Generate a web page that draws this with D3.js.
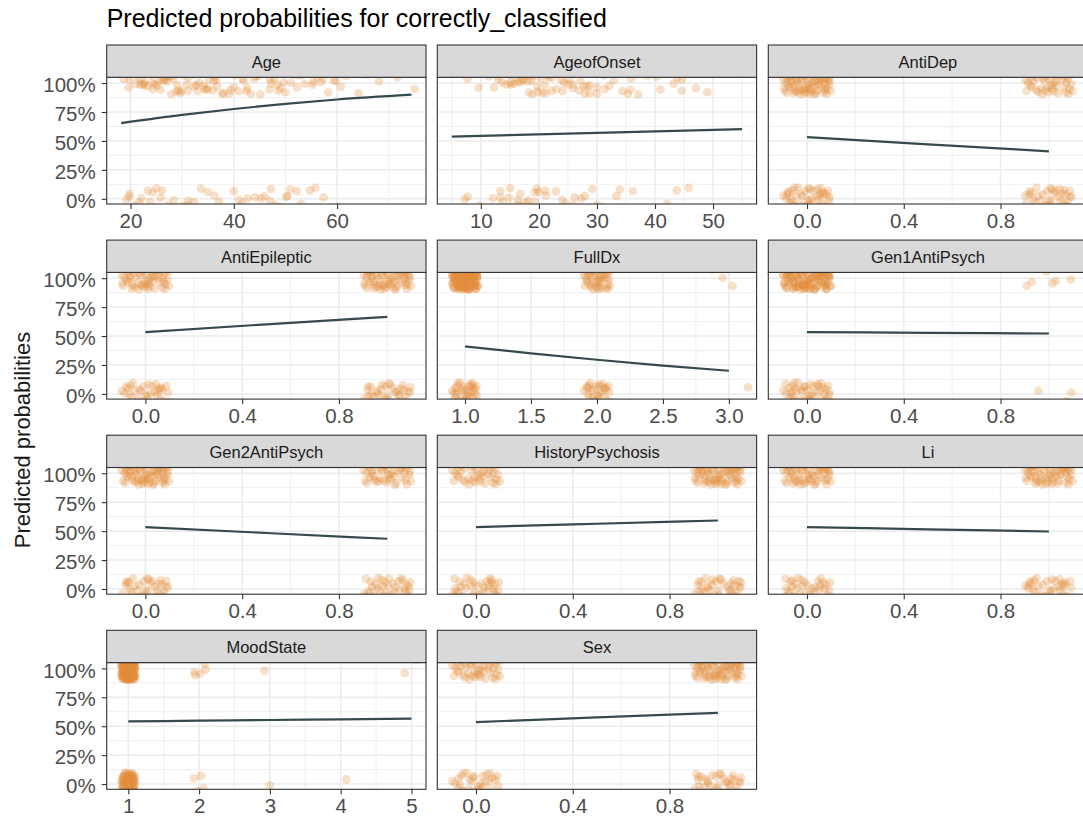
<!DOCTYPE html>
<html>
<head>
<meta charset="utf-8">
<script src="https://cdn.jsdelivr.net/npm/d3@7"></script>
<style>
  body { margin: 0; background: #fff; }
  svg { display: block; font-family: "Liberation Sans", Arial, sans-serif; }
</style>
</head>
<body>
<svg id="chart" width="1083" height="821"></svg>
<script>
// Facets, in facet_wrap order (3 columns)
const facets = ["Age", "AgeofOnset", "AntiDep", "AntiEpileptic", "FullDx", "Gen1AntiPsych",
                "Gen2AntiPsych", "HistoryPsychosis", "Li", "MoodState", "Sex"];

// Data range on x for each facet (before the 5% expansion)
const xLimits = [[18.2, 74.4], [5, 55], [-0.1, 1.1], [-0.1, 1.1], [0.9, 3.1], [-0.1, 1.1],
                 [-0.1, 1.1], [-0.1, 1.1], [-0.1, 1.1], [0.9, 5], [-0.1, 1.1]];

const xTicks = [[20, 40, 60], [10, 20, 30, 40, 50], [0, 0.4, 0.8], [0, 0.4, 0.8],
                [1, 1.5, 2, 2.5, 3], [0, 0.4, 0.8], [0, 0.4, 0.8], [0, 0.4, 0.8],
                [0, 0.4, 0.8], [1, 2, 3, 4, 5], [0, 0.4, 0.8]];
const xTickFormats = ["d", "d", ".1f", ".1f", ".1f", ".1f", ".1f", ".1f", ".1f", "d", ".1f"];

const yTicks = [0, 0.25, 0.5, 0.75, 1];

// Predicted probability curves
const lineX = [
  [18.2, 30, 40, 50, 60, 74.4],
  [5, 30, 55],
  [0, 0.5, 1],
  [0, 0.5, 1],
  [1, 1.5, 2, 2.5, 3],
  [0, 0.5, 1],
  [0, 0.5, 1],
  [0, 0.5, 1],
  [0, 0.5, 1],
  [1, 2, 3, 4, 5],
  [0, 0.5, 1]
];
const lineP = [
  [0.654, 0.725, 0.776, 0.821, 0.858, 0.900],
  [0.538, 0.570, 0.602],
  [0.533, 0.471, 0.410],
  [0.534, 0.601, 0.666],
  [0.410, 0.350, 0.295, 0.245, 0.200],
  [0.534, 0.528, 0.522],
  [0.535, 0.484, 0.434],
  [0.535, 0.564, 0.592],
  [0.535, 0.516, 0.497],
  [0.542, 0.548, 0.554, 0.559, 0.565],
  [0.536, 0.576, 0.616]
];

// Jitter offsets (in units of the jitter width) shared by all point clouds
const jitter = [
  [-0.82, 0.35], [0.41, -0.67], [0.07, 0.91], [-0.33, -0.12], [0.88, 0.22], [-0.57, -0.88],
  [0.24, 0.48], [-0.95, -0.41], [0.63, 0.76], [-0.14, -0.55], [0.76, -0.29], [-0.68, 0.62],
  [0.12, -0.93], [-0.41, 0.08], [0.95, 0.57], [-0.22, 0.79], [0.51, -0.05], [-0.77, -0.18],
  [0.33, 0.14], [-0.05, -0.36], [0.69, -0.81], [-0.89, 0.88], [0.18, -0.71], [-0.49, 0.44],
  [0.84, -0.52], [-0.28, -0.97], [0.46, 0.67], [-0.63, 0.19], [0.02, 0.31], [0.72, 0.02],
  [-0.92, -0.66], [0.29, -0.24], [-0.11, 0.59], [0.58, 0.93], [-0.71, -0.33], [0.91, -0.11],
  [-0.37, 0.97], [0.15, -0.45], [-0.54, -0.58], [0.79, 0.41], [-0.19, 0.23], [0.37, -0.87],
  [-0.86, 0.05], [0.54, 0.29], [-0.03, -0.79], [0.66, 0.55], [-0.45, -0.76], [0.98, -0.68],
  [-0.61, 0.73], [0.21, 0.04], [-0.31, -0.44], [0.44, 0.84], [-0.98, 0.27], [0.09, -0.17],
  [0.81, -0.94], [-0.73, 0.51], [0.27, 0.71], [-0.16, -0.63], [0.61, -0.38], [-0.51, 0.95],
  [0.87, 0.69], [-0.25, 0.39], [0.05, -0.51], [-0.66, -0.06], [0.39, 0.18], [-0.08, 0.66],
  [0.74, -0.61], [-0.84, -0.84], [0.31, -0.98], [-0.43, 0.26], [0.93, 0.12], [-0.58, -0.27],
  [0.13, 0.81], [-0.36, -0.71], [0.56, 0.47], [-0.79, 0.64], [0.01, -0.09], [0.68, 0.36],
  [-0.12, -0.91], [0.47, -0.15]
];

// Observed values for the continuous predictors (outcome 1 = top, 0 = bottom)
const ageTop = [19, 20, 21, 21, 22, 22, 23, 24, 24, 25, 25, 26, 26, 27, 27, 28, 28, 28, 29, 29,
                30, 30, 31, 31, 32, 32, 33, 33, 34, 35, 35, 36, 36, 37, 38, 38, 39, 40, 40, 41,
                42, 42, 43, 44, 45, 45, 46, 47, 47, 48, 49, 49, 50, 51, 52, 53, 54, 55, 56, 57,
                58, 60, 61, 64, 66, 72, 75,
                20, 21, 22, 23, 23, 24, 25, 26, 27, 27, 28, 29, 30, 31, 32, 33, 34, 34, 35, 36,
                37, 38, 39, 41, 42, 43, 44, 46, 47, 48, 50, 51, 52, 54, 55, 57, 59, 62, 68];
const ageBottom = [18, 19, 20, 21, 22, 23, 24, 25, 26, 27, 28, 29, 30, 30, 31, 32, 34, 35, 36, 38,
                   40, 41, 42, 44, 45, 46, 47, 48, 49, 50, 51, 52, 53, 55, 56, 57, 60, 66,
                   20, 22, 24, 26, 28, 29, 31, 33, 37, 43, 47, 50];
const onsetTop = [8, 10, 11, 12, 13, 14, 14, 15, 15, 16, 16, 17, 17, 18, 18, 19, 19, 20, 20, 21,
                  21, 21, 22, 22, 23, 23, 24, 24, 25, 25, 26, 27, 27, 28, 28, 29, 30, 30, 31, 32,
                  33, 34, 35, 36, 37, 39, 40, 41, 43, 44, 45, 47, 49, 55,
                  12, 13, 14, 15, 16, 17, 18, 19, 20, 21, 22, 22, 23, 24, 25, 26, 28, 29, 31, 32,
                  36, 40, 45];
const onsetBottom = [5, 7, 8, 10, 12, 13, 14, 15, 15, 16, 16, 17, 17, 18, 18, 19, 20, 20, 21, 22,
                     23, 24, 25, 26, 27, 28, 29, 30, 31, 33, 34, 36, 42, 44, 46,
                     13, 15, 16, 17, 18, 19, 21, 22, 24, 26];

// Point clouds of the discrete predictors: [x value, outcome, count, jitter start]
const clusters = [
  null,
  null,
  [[0, 1, 80, 0], [1, 1, 45, 17], [0, 0, 50, 33], [1, 0, 40, 51]],
  [[0, 1, 60, 5], [1, 1, 70, 22], [0, 0, 40, 40], [1, 0, 40, 61]],
  [[1, 1, 80, 0], [1, 1, 60, 40], [2, 1, 45, 12], [2.93, 1, 3, 47], [1, 0, 40, 25], [2, 0, 35, 44], [3.05, 0, 1, 14]],
  [[0, 1, 80, 3], [0, 1, 50, 43], [1, 1, 8, 30], [0, 0, 55, 19], [1, 0, 5, 66]],
  [[0, 1, 75, 9], [1, 1, 50, 27], [0, 0, 40, 53], [1, 0, 40, 2]],
  [[0, 1, 45, 15], [1, 1, 75, 36], [0, 0, 40, 6], [1, 0, 40, 58]],
  [[0, 1, 65, 21], [1, 1, 65, 71], [0, 0, 40, 11], [1, 0, 40, 42]],
  [[1, 1, 80, 4], [1, 1, 80, 44], [2, 1, 6, 34], [3, 1, 1, 17], [5, 1, 2, 7], [1, 0, 75, 24], [2, 0, 4, 55], [3, 0, 1, 76], [4, 0, 1, 39]],
  [[0, 1, 50, 13], [1, 1, 80, 48], [0, 0, 35, 31], [1, 0, 40, 64]]
];
const continuous = [[ageTop, ageBottom], [onsetTop, onsetBottom]];

// Layout (ggplot facet grid)
const colX = [106.7, 437.3, 768.3];
const panelW = 319.3;
const rowTop = 45, rowStep = 195.1, stripH = 32.3, panelH = 126.7;
const yDomain = [-0.045, 1.05];
const jitterW = 0.1, jitterH = 0.1;

const pointColor = "#E38B3B";
const lineColor = "#36494F";
const gridColor = "#EBEBEB";
const borderColor = "#333333";

const svg = d3.select("#chart");

function expand(lim) {
  const d = lim[1] - lim[0];
  return [lim[0] - 0.05 * d, lim[1] + 0.05 * d];
}

function minorBreaks(ticks, domain) {
  const step = ticks[1] - ticks[0];
  const out = [];
  for (let k = -1; k < ticks.length; k++) {
    const v = ticks[0] + (k + 0.5) * step;
    if (v >= domain[0] && v <= domain[1]) out.push(v);
  }
  return out;
}

// Title
svg.append("text")
  .attr("x", 106.7)
  .attr("y", 27)
  .attr("font-size", 25)
  .attr("fill", "#000")
  .text("Predicted probabilities for correctly_classified");

// Y axis title
svg.append("text")
  .attr("transform", "translate(30,440) rotate(-90)")
  .attr("text-anchor", "middle")
  .attr("font-size", 22)
  .attr("fill", "#1A1A1A")
  .text("Predicted probabilities");

facets.forEach((name, i) => {
  const col = i % 3, row = Math.floor(i / 3);
  const x0 = colX[col];
  const sTop = rowTop + row * rowStep;
  const pTop = sTop + stripH;
  const pBottom = pTop + panelH;

  const xDom = expand(xLimits[i]);
  const x = d3.scaleLinear().domain(xDom).range([x0, x0 + panelW]);
  const y = d3.scaleLinear().domain(yDomain).range([pBottom, pTop]);

  const g = svg.append("g");

  // panel background
  g.append("rect")
    .attr("x", x0).attr("y", pTop)
    .attr("width", panelW).attr("height", panelH)
    .attr("fill", "#fff");

  // minor grid
  g.selectAll(".ymin").data(minorBreaks(yTicks, yDomain)).enter().append("line")
    .attr("x1", x0).attr("x2", x0 + panelW)
    .attr("y1", d => y(d)).attr("y2", d => y(d))
    .attr("stroke", gridColor).attr("stroke-width", 0.8);
  g.selectAll(".xmin").data(minorBreaks(xTicks[i], xDom)).enter().append("line")
    .attr("x1", d => x(d)).attr("x2", d => x(d))
    .attr("y1", pTop).attr("y2", pBottom)
    .attr("stroke", gridColor).attr("stroke-width", 0.8);

  // major grid
  g.selectAll(".ymaj").data(yTicks).enter().append("line")
    .attr("x1", x0).attr("x2", x0 + panelW)
    .attr("y1", d => y(d)).attr("y2", d => y(d))
    .attr("stroke", gridColor).attr("stroke-width", 1.5);
  g.selectAll(".xmaj").data(xTicks[i]).enter().append("line")
    .attr("x1", d => x(d)).attr("x2", d => x(d))
    .attr("y1", pTop).attr("y2", pBottom)
    .attr("stroke", gridColor).attr("stroke-width", 1.5);

  // clip for points
  const clipId = "clip" + i;
  svg.append("clipPath").attr("id", clipId)
    .append("rect")
    .attr("x", x0).attr("y", pTop)
    .attr("width", panelW).attr("height", panelH);

  // jittered points
  const pts = [];
  if (clusters[i]) {
    clusters[i].forEach(([cx, cy, n, s]) => {
      for (let k = 0; k < n; k++) {
        const j = jitter[(s + k) % jitter.length];
        pts.push({ x: cx + j[0] * jitterW, y: cy + j[1] * jitterH });
      }
    });
  } else {
    const [top, bottom] = continuous[i];
    top.forEach((v, k) => {
      const j = jitter[(k * 7 + Math.floor(k / 80) * 3) % jitter.length];
      pts.push({ x: v + j[0] * 0.4, y: 1 + j[1] * jitterH });
    });
    bottom.forEach((v, k) => {
      const j = jitter[(k * 11 + 5) % jitter.length];
      pts.push({ x: v + j[0] * 0.4, y: j[1] * jitterH });
    });
  }

  g.append("g")
    .attr("clip-path", `url(#${clipId})`)
    .selectAll("circle")
    .data(pts)
    .enter()
    .append("circle")
    .attr("cx", d => x(d.x))
    .attr("cy", d => y(d.y))
    .attr("r", 4.3)
    .attr("fill", pointColor)
    .attr("fill-opacity", 0.28);

  // predicted line
  const lineData = lineX[i].map((v, k) => [v, lineP[i][k]]);
  const line = d3.line()
    .x(d => x(d[0]))
    .y(d => y(d[1]))
    .curve(d3.curveMonotoneX);
  g.append("path")
    .datum(lineData)
    .attr("d", line)
    .attr("fill", "none")
    .attr("stroke", lineColor)
    .attr("stroke-width", 2.2);

  // panel border
  g.append("rect")
    .attr("x", x0).attr("y", pTop)
    .attr("width", panelW).attr("height", panelH)
    .attr("fill", "none")
    .attr("stroke", borderColor)
    .attr("stroke-width", 1.1);

  // strip
  g.append("rect")
    .attr("x", x0).attr("y", sTop)
    .attr("width", panelW).attr("height", stripH)
    .attr("fill", "#D9D9D9")
    .attr("stroke", borderColor)
    .attr("stroke-width", 1.1);
  g.append("text")
    .attr("x", x0 + panelW / 2)
    .attr("y", sTop + 22.7)
    .attr("text-anchor", "middle")
    .attr("font-size", 16.5)
    .attr("fill", "#1A1A1A")
    .text(name);

  // x axis
  const xAxis = g.append("g")
    .attr("transform", `translate(0,${pBottom})`)
    .call(d3.axisBottom(x)
      .tickValues(xTicks[i])
      .tickFormat(d3.format(xTickFormats[i]))
      .tickSize(5)
      .tickPadding(4.4));
  xAxis.select(".domain").remove();
  xAxis.selectAll(".tick line").attr("stroke", borderColor).attr("stroke-width", 1.1);
  xAxis.selectAll(".tick text")
    .attr("font-size", 20.5)
    .attr("font-family", "Liberation Sans, Arial, sans-serif")
    .attr("fill", "#4D4D4D");

  // y axis on first column only
  if (col === 0) {
    const yAxis = g.append("g")
      .attr("transform", `translate(${x0},0)`)
      .call(d3.axisLeft(y)
        .tickValues(yTicks)
        .tickFormat(d3.format(".0%"))
        .tickSize(5)
        .tickPadding(6));
    yAxis.select(".domain").remove();
    yAxis.selectAll(".tick line").attr("stroke", borderColor).attr("stroke-width", 1.1);
    yAxis.selectAll(".tick text")
      .attr("font-size", 20.5)
      .attr("font-family", "Liberation Sans, Arial, sans-serif")
      .attr("fill", "#4D4D4D")
      .attr("dy", "0.42em");
  }
});
</script>
</body>
</html>
